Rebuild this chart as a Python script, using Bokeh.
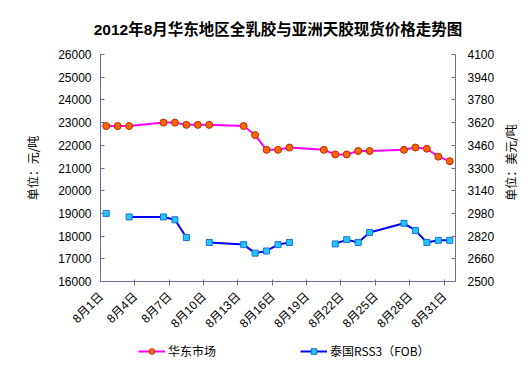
import math
from bokeh.plotting import figure
from bokeh.layouts import column, row
from bokeh.core.properties import value
from bokeh.models import Range1d, LinearAxis, FixedTicker, Legend, LegendItem
from bokeh.embed import file_html
from bokeh.resources import INLINE

nan = float("nan")

# category axis: 8月1日 .. 8月31日 (day numbers)
tick_days = [1, 4, 7, 10, 13, 16, 19, 22, 25, 28, 31]
tick_labels = ["8月1日", "8月4日", "8月7日", "8月10日", "8月13日", "8月16日",
               "8月19日", "8月22日", "8月25日", "8月28日", "8月31日"]

cny_ticks = [16000, 17000, 18000, 19000, 20000, 21000, 22000, 23000, 24000, 25000, 26000]
usd_ticks = [2500, 2660, 2820, 2980, 3140, 3300, 3460, 3620, 3780, 3940, 4100]

east_days = [1, 2, 3, 6, 7, 8, 9, 10, 13, 14, 15, 16, 17, 20, 21, 22, 23, 24, 27, 28, 29, 30, 31]
east_price = [22850, 22850, 22850, 23000, 23000, 22900, 22900, 22900, 22850, 22450, 21800, 21800,
              21900, 21800, 21600, 21600, 21750, 21750, 21800, 21900, 21850, 21500, 21300]

rss3_days = [1, 2, 3, 6, 7, 8, 9, 10, 13, 14, 15, 16, 17, 20, 21, 22, 23, 24, 27, 28, 29, 30, 31]
rss3_price = [2980, nan, 2955, 2955, 2935, 2810, nan, 2775, 2760, 2700, 2715, 2760,
              2775, nan, 2765, 2795, 2775, 2845, 2910, 2860, 2775, 2790, 2790]

AXIS_COLOR = "#6E6E9A"
TEXT_COLOR = "#000000"
CJK = "Noto Sans CJK SC"
LAT = "Liberation Sans"

EAST_STYLE = dict(line_color="#FF00FF", line_width=2)
EAST_MARK = dict(marker="circle", size=7, fill_color="#FF6600", line_color="#B03000", line_width=1)
RSS_STYLE = dict(line_color="#0000FF", line_width=2)
RSS_MARK = dict(marker="square", size=6, fill_color="#1EC8FF", line_color="#1F6FD0", line_width=1)

MAIN_W, MAIN_H, LEG_H, SIDE_W = 498, 339, 44, 30
TOP, BOTTOM, LEFT = 54, 58, 100

p = figure(width=MAIN_W, height=MAIN_H, x_range=Range1d(0.5, 31.5), y_range=Range1d(16000, 26000),
           output_backend="svg", toolbar_location=None,
           min_border_left=LEFT, min_border_right=43, min_border_top=TOP, min_border_bottom=BOTTOM,
           x_axis_type=None, y_axis_type=None)
p.outline_line_color = None
p.background_fill_color = "white"
p.border_fill_color = "white"

p.title.text = "2012年8月华东地区全乳胶与亚洲天胶现货价格走势图"
p.title.align = "center"
p.title.offset = -5
p.title.text_font = LAT + ", " + CJK
p.title.text_font_size = "15.5px"
p.title.text_font_style = "bold"
p.title.text_color = TEXT_COLOR
p.title.standoff = 34

p.extra_y_ranges = {"usd": Range1d(2500, 4100)}

# bottom axis: labels anchored slightly left of each category centre
label_pos = [d - 0.45 for d in tick_days]
xaxis = LinearAxis(ticker=FixedTicker(ticks=label_pos,
                                      minor_ticks=[d + 2.5 for d in tick_days[:-1]]))
xaxis.major_label_overrides = {x: l for x, l in zip(label_pos, tick_labels)}
xaxis.major_label_orientation = math.pi / 4
xaxis.major_tick_line_color = None
xaxis.minor_tick_in = 2
xaxis.minor_tick_out = 4
xaxis.minor_tick_line_color = AXIS_COLOR
xaxis.axis_line_color = AXIS_COLOR
xaxis.major_label_text_font = LAT + ", " + CJK
xaxis.major_label_text_font_size = "12px"
xaxis.major_label_text_color = TEXT_COLOR
xaxis.major_label_standoff = 7
p.add_layout(xaxis, "below")

# left axis
yl = LinearAxis(ticker=FixedTicker(ticks=cny_ticks))
yl.axis_label = "单位：元/吨"
yl.axis_label_text_font = CJK
yl.axis_label_text_font_style = "normal"
yl.axis_label_text_font_size = "12px"
yl.axis_label_text_color = TEXT_COLOR
yl.axis_label_standoff = 14
yl.major_label_text_font = LAT
yl.major_label_text_font_size = "12px"
yl.major_label_text_color = TEXT_COLOR
yl.major_label_standoff = 9
yl.major_tick_in = 4
yl.major_tick_out = 0
yl.minor_tick_line_color = None
yl.axis_line_color = AXIS_COLOR
yl.major_tick_line_color = AXIS_COLOR
p.add_layout(yl, "left")

# right axis (ticks and numbers)
yr = LinearAxis(y_range_name="usd", ticker=FixedTicker(ticks=usd_ticks))
yr.major_label_text_font = LAT
yr.major_label_text_font_size = "12px"
yr.major_label_text_color = TEXT_COLOR
yr.major_label_standoff = 12
yr.major_tick_in = 4
yr.major_tick_out = 0
yr.minor_tick_line_color = None
yr.axis_line_color = AXIS_COLOR
yr.major_tick_line_color = AXIS_COLOR
p.add_layout(yr, "right")

p.ygrid.grid_line_color = "#ADADAD"
p.ygrid.ticker = FixedTicker(ticks=cny_ticks)
p.xgrid.grid_line_color = None

p.line(east_days, east_price, **EAST_STYLE)
p.scatter(east_days, east_price, **EAST_MARK)
p.line(rss3_days, rss3_price, y_range_name="usd", **RSS_STYLE)
p.scatter(rss3_days, rss3_price, y_range_name="usd", **RSS_MARK)

# legend strip below the chart (its renderers lie outside its own visible range)
lf = figure(width=MAIN_W, height=LEG_H, x_range=Range1d(-100, -99), y_range=Range1d(-100, -99),
            output_backend="svg", toolbar_location=None, min_border=0,
            x_axis_type=None, y_axis_type=None)
lf.outline_line_color = None
lf.xgrid.grid_line_color = None
lf.ygrid.grid_line_color = None
ll1 = lf.line(east_days, east_price, **EAST_STYLE)
ls1 = lf.scatter(east_days, east_price, **EAST_MARK)
ll2 = lf.line(rss3_days, rss3_price, **RSS_STYLE)
ls2 = lf.scatter(rss3_days, rss3_price, **RSS_MARK)

legend = Legend(items=[LegendItem(label="华东市场", renderers=[ll1, ls1]),
                       LegendItem(label="泰国RSS3（FOB）", renderers=[ll2, ls2])],
                orientation="horizontal", location=(38, 24))
legend.border_line_color = None
legend.background_fill_alpha = 0
legend.label_text_font = CJK
legend.label_text_font_size = "12px"
legend.label_text_color = TEXT_COLOR
legend.glyph_width = 27
legend.glyph_height = 14
legend.label_height = 14
legend.label_standoff = 3
legend.spacing = 84
legend.padding = 0
legend.margin = 0
lf.add_layout(legend, "center")

# right-hand unit title strip (read bottom-to-top), frame matched to the chart frame
rf = figure(width=SIDE_W, height=MAIN_H + LEG_H, x_range=Range1d(0, 1), y_range=Range1d(16000, 26000),
            output_backend="svg", toolbar_location=None,
            min_border_left=0, min_border_right=0, min_border_top=TOP,
            min_border_bottom=MAIN_H + LEG_H - (MAIN_H - BOTTOM),
            x_axis_type=None, y_axis_type=None)
rf.outline_line_color = None
rf.xgrid.grid_line_color = None
rf.ygrid.grid_line_color = None
label_y = 26000 - (162 - TOP) / (MAIN_H - TOP - BOTTOM) * 10000
rf.text(x=[0.4], y=[label_y], text=["单位：美元/吨"], angle=math.pi / 2,
        text_align="center", text_baseline="middle", text_font=value(CJK),
        text_font_size="12px", text_color=TEXT_COLOR)

open("out.html", "w").write(file_html(row(column(p, lf), rf), INLINE))
